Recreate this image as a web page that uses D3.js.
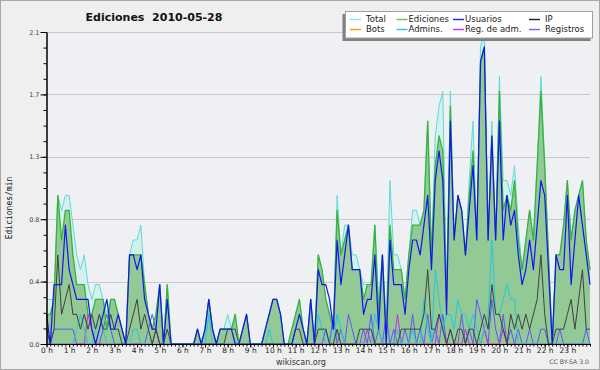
<!DOCTYPE html>
<html>
<head>
<meta charset="utf-8">
<script src="https://cdn.jsdelivr.net/npm/d3@7"></script>
<style>
  body { margin: 0; background: #fff; }
  svg { display: block; font-family: "DejaVu Sans", sans-serif; }
</style>
</head>
<body>
<svg id="main"></svg>
<script>
var hourLabels = ["0 h","1 h","2 h","3 h","4 h","5 h","6 h","7 h","8 h","9 h","10 h","11 h",
  "12 h","13 h","14 h","15 h","16 h","17 h","18 h","19 h","20 h","21 h","22 h","23 h"];
var yTicks = [0, 0.42, 0.84, 1.26, 1.68, 2.1];

// one value every 10 minutes, in ediciones/min
var total = [.3,.3,.3,1.0,.9,1.0,1.0,.8,.6,.5,
  .6,.4,.3,.4,.4,.3,.2,.3,.3,.2,
  .1,0,.6,.7,.7,.8,.4,.2,.1,.2,
  .4,0,.4,0,0,0,0,0,0,0,
  .1,0,.1,.3,.1,0,.1,.1,.2,.1,
  .2,0,.1,.2,0,0,0,0,.1,.2,
  .3,.3,.2,0,0,.1,.2,.3,.1,0,
  .3,0,.6,.5,.3,.2,.1,1.0,.6,.8,
  .8,.6,.6,.5,.4,.4,.4,.8,.3,.6,
  .1,1.1,.6,.6,.5,.3,.6,.9,.9,.8,
  .9,1.5,.6,1.4,1.6,1.7,.3,1.7,.7,1.0,
  .9,.6,1.1,1.5,.7,2.0,2.1,.7,1.5,.7,
  1.8,1.1,1.1,1.0,1.2,.8,.5,.7,.9,.7,
  1.2,1.8,1.2,.6,0,.6,.6,.8,1.1,.7,
  .9,1.0,1.1,.7,.5];
var ediciones = [.2,.2,.3,1.0,.7,.9,.9,.6,.4,.4,
  .4,.2,.2,.3,.3,.3,.1,.3,.3,.2,
  .1,0,.6,.6,.6,.6,.4,.2,.1,.2,
  .4,0,.4,0,0,0,0,0,0,0,
  .1,0,.1,.3,.1,0,.1,.1,.1,.1,
  .2,0,.1,.2,0,0,0,0,.1,.2,
  .3,.3,.2,0,0,.1,.2,.3,.1,0,
  .3,0,.6,.5,.3,.2,.1,.9,.6,.7,
  .8,.5,.5,.5,.3,.4,.4,.8,.2,.6,
  .1,.8,.5,.5,.5,.3,.6,.8,.8,.8,
  .9,1.5,.6,1.2,1.4,1.3,.3,1.6,.7,1.0,
  .9,.6,1.0,1.3,.7,1.9,2.0,.7,1.4,.7,
  1.7,.9,1.0,.9,1.1,.7,.5,.7,.9,.7,
  1.2,1.7,1.2,.6,0,.6,.6,.8,1.1,.7,
  .9,1.0,1.1,.7,.5];
var usuarios = [.2,0,.4,.4,.4,.8,.5,.4,.3,.3,
  .3,.3,.1,0,.1,.2,.3,.1,.1,.2,
  .1,0,.6,.6,.5,.6,.3,.2,.1,.1,
  .4,0,.3,0,0,0,0,0,0,0,
  .1,0,.1,.3,.1,0,.1,.1,.1,.1,
  0,0,.1,.2,0,0,0,0,.1,.2,
  .3,.3,.2,0,0,0,.1,.2,.1,0,
  .3,0,.5,.4,.4,.3,.1,.7,.4,.6,
  .8,.5,.5,.5,.2,.3,.3,.6,.1,.6,
  0,.7,.4,.4,.4,.2,.5,.7,.7,.6,
  .8,1.0,.5,1.1,1.3,1.1,.2,1.5,.7,1.0,
  .9,.6,.9,1.2,.7,1.9,2.0,.7,1.4,.7,
  1.5,.7,1.0,.8,.9,.6,.4,.5,.7,.5,
  .8,1.1,1.0,.5,0,.6,.5,.5,1.0,.4,
  .7,1.0,.8,.6,.4];
var ip = [.1,0,.1,.6,.2,.3,.4,.2,.2,.1,
  .2,.1,.2,.1,.2,.1,.1,.2,.1,.1,
  0,0,.1,.2,.3,.1,.2,.1,0,.1,
  0,0,.1,0,0,0,0,0,0,0,
  0,0,0,0,0,0,0,0,.1,.1,
  .1,0,0,0,0,0,0,0,0,0,
  0,0,0,0,0,0,.1,.1,0,0,
  0,0,.1,.1,.1,0,0,.1,0,0,
  0,0,0,.1,.1,.1,.1,0,0,0,
  0,0,0,0,.1,.1,.1,.1,.1,.1,
  .2,.5,.1,.1,.2,.1,0,.1,0,.1,
  .1,0,.1,.1,0,.1,.2,.1,.4,.2,
  .2,.1,0,.2,.1,.2,.1,.2,.1,.2,
  .3,.6,.2,0,0,.1,.1,.1,.2,.3,
  .1,.3,.5,.1,.1];
var bots = [0,0,0,0,0,0,0,0,0,0,
  0,0,0,0,0,0,0,0,0,0,
  0,0,0,0,0,0,0,0,0,0,
  0,0,0,0,0,0,0,0,0,0,
  0,0,0,0,0,0,0,0,0,0,
  0,0,0,0,0,0,0,0,0,0,
  0,0,0,0,0,0,0,0,0,0,
  0,0,0,0,0,0,0,0,0,0,
  0,0,0,0,0,0,0,0,0,0,
  0,0,0,0,0,0,0,0,0,0,
  0,0,0,0,0,0,0,0,0,0,
  0,0,0,0,0,0,0,0,0,0,
  0,0,0,0,0,0,0,0,0,0,
  0,0,0,0,0,0,0,0,0,0,
  0,0,0,0,0];
var admins = [0,0,0,0,0,0,0,0,.1,.2,
  .1,0,0,.1,.2,.1,0,0,0,0,
  0,0,0,.1,.1,0,0,0,0,0,
  0,0,0,0,0,0,0,0,0,0,
  0,0,0,.2,0,0,0,0,0,0,
  0,0,0,0,0,0,0,0,0,.1,
  0,0,0,0,0,0,0,0,0,0,
  0,0,.2,.1,0,0,0,.2,.1,0,
  0,0,0,0,0,0,0,.2,.1,0,
  0,0,0,.1,0,0,0,.1,0,0,
  .3,.1,0,.5,.3,.1,.2,.2,.1,.3,
  .2,.2,.1,.2,.1,0,.1,.2,.7,.2,
  .2,.3,.4,.3,.3,0,0,0,0,0,
  0,0,0,0,0,0,0,0,0,0,
  0,0,0,0,0];
var regAdm = [0,0,0,0,0,0,0,0,0,0,
  0,.2,.1,0,0,0,0,0,0,0,
  0,0,0,0,0,0,0,0,0,.1,
  0,0,0,0,0,0,0,0,0,0,
  0,0,0,0,0,0,0,0,0,0,
  0,0,0,0,0,0,0,0,0,0,
  0,0,0,0,0,0,0,0,0,0,
  0,0,0,0,0,0,0,0,0,0,
  0,0,0,0,0,.1,0,0,0,0,
  0,0,0,.2,0,0,0,0,0,0,
  0,0,0,0,.2,.1,0,0,0,0,
  0,.1,0,0,0,0,.1,0,0,0,
  0,.1,0,0,0,0,0,0,0,0,
  0,0,0,0,0,0,0,0,0,0,
  0,0,0,0,0];
var registros = [0,0,.1,.1,.1,.1,.1,.1,0,0,
  0,0,0,0,0,.1,.2,.1,0,0,
  0,0,0,0,0,0,0,.1,.2,.1,
  0,0,0,0,0,0,0,0,0,0,
  0,0,0,0,0,0,0,0,0,0,
  0,0,0,0,0,0,0,0,0,0,
  0,0,0,0,0,0,0,0,0,0,
  0,0,0,0,.1,0,.2,0,.1,0,
  .2,.1,0,0,.1,0,.2,0,.1,0,
  .2,0,.1,0,0,.1,0,.2,0,.1,
  0,.2,0,.1,0,.2,0,.1,0,0,
  .2,0,.1,0,.3,.2,.1,0,.3,.1,
  0,.2,0,.1,0,.1,0,0,.1,0,
  0,.1,.1,0,0,0,.1,0,0,0,
  0,0,0,.1,0];

var series = [
  { name: "Total", values: total, color: "#62d9d9", legend: "#8fe3e3", width: 1 },
  { name: "Ediciones", values: ediciones, color: "#38b338", legend: "#5cc45c", width: 1.3 },
  { name: "Usuarios", values: usuarios, color: "#1414f0", legend: "#2020f0", width: 1.2 },
  { name: "IP", values: ip, color: "#404040", legend: "#202020", width: 1 },
  { name: "Bots", values: bots, color: "#ff9900", legend: "#ff9900", width: 1 },
  { name: "Admins.", values: admins, color: "#22c8e0", legend: "#22c8e0", width: 1 },
  { name: "Reg. de adm.", values: regAdm, color: "#c030e0", legend: "#d030f0", width: 1 },
  { name: "Registros", values: registros, color: "#5a5af5", legend: "#6868ff", width: 1 }
];

var w = 600, h = 370;
var padLeft = 46.5, padRight = 590, padTop = 32, padBottom = 344;

var svg = d3.select("#main").attr("width", w).attr("height", h);

svg.append("rect").attr("width", w).attr("height", h).attr("fill", "#efefef");
svg.append("rect").attr("x", 0.5).attr("y", 0.5).attr("width", w - 1).attr("height", h - 1)
  .attr("fill", "none").attr("stroke", "#a8a8a8");
svg.append("rect").attr("x", padLeft).attr("y", padTop).attr("width", padRight - padLeft)
  .attr("height", padBottom - padTop).attr("fill", "#eff0f3");

var x = d3.scaleLinear().domain([0, 1440]).range([padLeft, padRight]);
var y = d3.scaleLinear().domain([0, 2.1]).range([padBottom, padTop]);

// grid
svg.append("g").selectAll("line")
  .data(yTicks.slice(1))
  .enter().append("line")
  .attr("x1", padLeft).attr("x2", padRight)
  .attr("y1", function(d) { return Math.round(y(d)) + 0.5; })
  .attr("y2", function(d) { return Math.round(y(d)) + 0.5; })
  .attr("stroke", "#c9c9c9");

var area = d3.area()
  .x(function(d, i) { return x(i * 10); })
  .y0(padBottom)
  .y1(function(d) { return y(d); });

svg.append("path").datum(total).attr("d", area).attr("fill", "#d3f1ed");
svg.append("path").datum(ediciones).attr("d", area).attr("fill", "#93c995");

var line = d3.line()
  .x(function(d, i) { return x(i * 10); })
  .y(function(d) { return y(d); });

var order = [4, 0, 7, 6, 5, 3, 1, 2];
order.forEach(function(k) {
  var s = series[k];
  svg.append("path").datum(s.values)
    .attr("d", line)
    .attr("fill", "none")
    .attr("stroke", s.color)
    .attr("stroke-width", s.width)
    .attr("stroke-linejoin", "round");
});

// axes
var minorY = d3.range(0, 21).map(function(k) { return k * 0.105; });
svg.append("g")
  .attr("transform", "translate(" + padLeft + ",0)")
  .call(d3.axisLeft(y).tickValues(minorY).tickSize(3).tickSizeOuter(0).tickFormat(""));
svg.append("g")
  .attr("class", "yaxis")
  .attr("transform", "translate(" + padLeft + ",0)")
  .call(d3.axisLeft(y).tickValues(yTicks).tickSize(6).tickPadding(1).tickSizeOuter(0)
    .tickFormat(d3.format(".1f")));

var minorX = d3.range(0, 1441, 10);
svg.append("g")
  .attr("transform", "translate(0," + padBottom + ")")
  .call(d3.axisBottom(x).tickValues(minorX).tickSize(2.5).tickSizeOuter(0).tickFormat(""));
svg.append("g")
  .attr("class", "xaxis")
  .attr("transform", "translate(0," + padBottom + ")")
  .call(d3.axisBottom(x).tickValues(d3.range(0, 24).map(function(k) { return k * 60; }))
    .tickSize(3.5).tickSizeOuter(0)
    .tickFormat(function(d, i) { return hourLabels[i]; }));

svg.selectAll(".domain").attr("stroke", "#000");
svg.selectAll(".tick line").attr("stroke", "#000");
svg.selectAll(".yaxis text").attr("font-size", "6.5px").attr("fill", "#444")
  .attr("font-family", "DejaVu Sans");
svg.selectAll(".xaxis text").attr("font-size", "7.5px").attr("fill", "#222")
  .attr("font-family", "DejaVu Sans").attr("y", 3.2);

// texts
svg.append("text").attr("x", 154).attr("y", 21).attr("text-anchor", "middle")
  .attr("font-size", "11px").attr("font-weight", "bold").attr("fill", "#111")
  .style("white-space", "pre").text("Ediciones  2010-05-28");

svg.append("text").attr("transform", "translate(12,208) rotate(-90)")
  .attr("text-anchor", "middle").attr("font-family", "DejaVu Sans Mono")
  .attr("font-size", "8px").attr("fill", "#111").text("Ediciones/min");

svg.append("text").attr("x", 301).attr("y", 365).attr("text-anchor", "middle")
  .attr("font-size", "8px").attr("fill", "#333").text("wikiscan.org");
svg.append("text").attr("x", 589).attr("y", 364).attr("text-anchor", "end")
  .attr("font-size", "6.2px").attr("fill", "#555").text("CC BY-SA 3.0");

// legend
var lg = svg.append("g");
lg.append("rect").attr("x", 342.5).attr("y", 14).attr("width", 248).attr("height", 27).attr("fill", "#808080");
lg.append("rect").attr("x", 345.5).attr("y", 11.5).attr("width", 247).attr("height", 26.5)
  .attr("fill", "#fff").attr("stroke", "#a0a0a0");
var colX = [350, 396.5, 453, 529];
series.forEach(function(s, k) {
  var cx = colX[k % 4], cy = k < 4 ? 19 : 29;
  lg.append("line").attr("x1", cx).attr("x2", cx + 11).attr("y1", cy + 0.5).attr("y2", cy + 0.5)
    .attr("stroke", s.legend).attr("stroke-width", 1.4);
  lg.append("text").attr("x", cx + (k % 4 == 0 || k % 4 == 3 ? 16 : 12))
    .attr("y", cy + 3.2).attr("font-size", "8.5px").attr("fill", "#222").text(s.name);
});
</script>
</body>
</html>
